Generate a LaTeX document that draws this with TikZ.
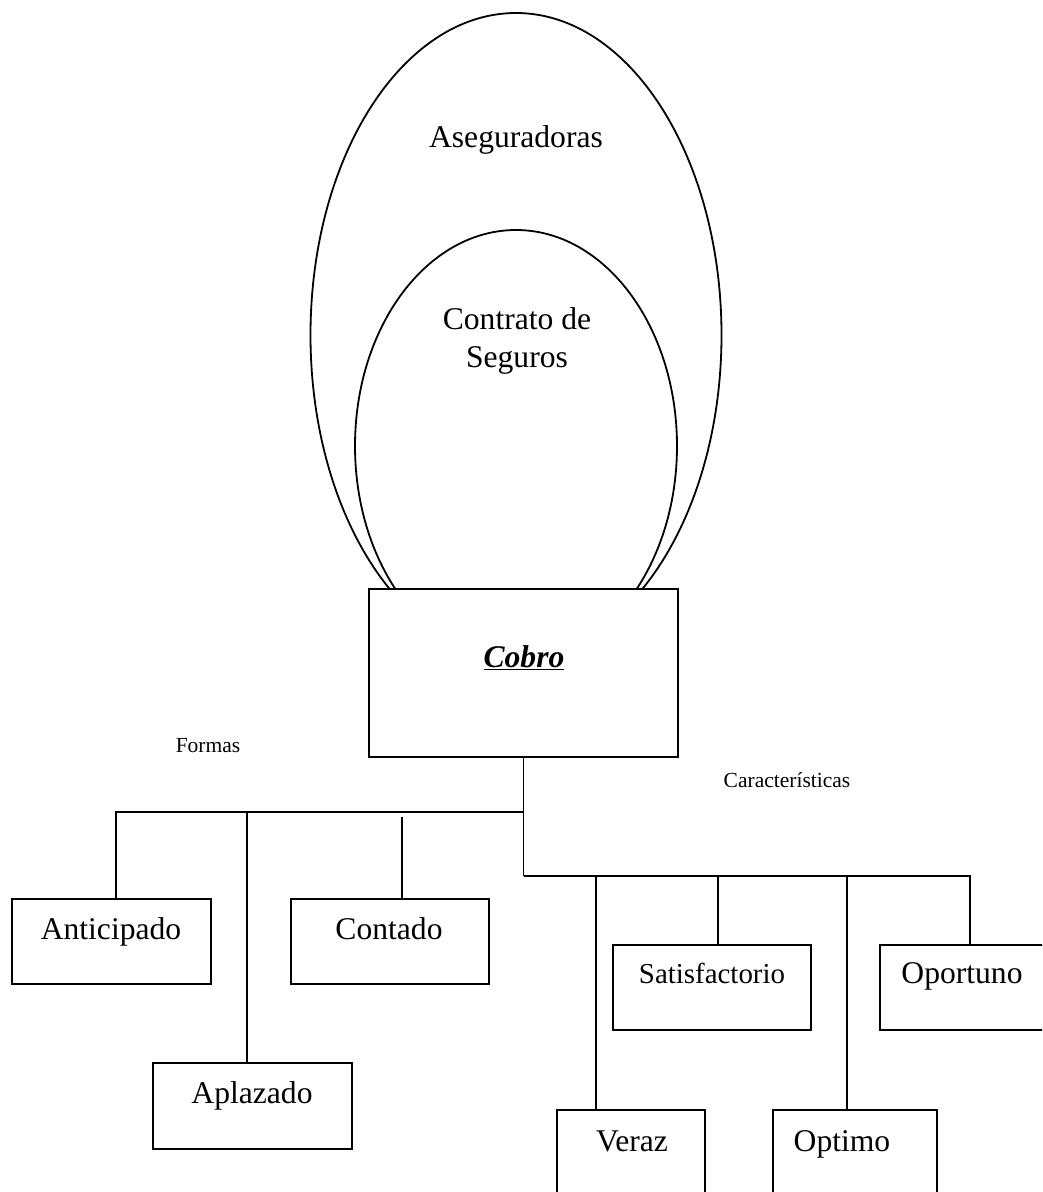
\documentclass[tikz,border=0pt]{standalone}
\usepackage{fontspec}
\setmainfont{Liberation Serif}
\begin{document}
\begin{tikzpicture}[x=1pt,y=-1pt,
  ln/.style={line width=1.8pt},
  box/.style={draw, line width=2pt, inner sep=0pt, outer sep=0pt, anchor=north west},
  big/.style={anchor=base, inner sep=0pt, font=\fontsize{31.6}{38}\selectfont},
  mid/.style={anchor=base, inner sep=0pt, font=\fontsize{28.9}{34}\selectfont},
  small/.style={anchor=base, inner sep=0pt, font=\fontsize{21.5}{26}\selectfont}]
\useasboundingbox (0,0) rectangle (1042,1192);
\clip (0,0) rectangle (1042,1192);
% ellipses
\draw[ln] (516,335) ellipse [x radius=205.5pt, y radius=322pt];
\draw[ln] (516,446) ellipse [x radius=161pt, y radius=216pt];
\node[big] (aseg) at (516,147) {Aseguradoras};
\node[big, align=center, anchor=base] (contrato) at (517,367) {Contrato de\\Seguros};
% central box
\node[box, fill=white, minimum width=309pt, minimum height=168pt] (cobro) at (369,589) {};
\node[big] (cobrot) at (524,667) {\bfseries\itshape\underline{Cobro}};
% labels
\node[small] (formas) at (208,752) {Formas};
\node[small] (caract) at (787,787) {Características};
% boxes
\node[box, minimum width=199pt, minimum height=85pt] (ant) at (12,899) {};
\node[box, minimum width=198pt, minimum height=85pt] (con) at (291,899) {};
\node[box, minimum width=199pt, minimum height=86pt] (apl) at (153,1063) {};
\node[box, minimum width=198pt, minimum height=85pt] (sat) at (613,945) {};
\node[box, minimum width=180pt, minimum height=85pt] (opo) at (880,945) {};
\node[box, minimum width=148pt, minimum height=100pt] (ver) at (557,1110) {};
\node[box, minimum width=164pt, minimum height=100pt] (opt) at (773,1110) {};
% box texts
\node[big] (antt) at (111,939) {Anticipado};
\node[big] (cont) at (389,939) {Contado};
\node[big] (aplt) at (252,1103) {Aplazado};
\node[mid] (satt) at (712,983) {Satisfactorio};
\node[big] (opot) at (962,983) {Oportuno};
\node[big] (vert) at (632,1151) {Veraz};
\node[big] (optt) at (842,1151) {Optimo};
% connectors
\coordinate (j1) at (523.5,812);
\coordinate (j2) at (523.5,876);
\coordinate (ka) at (116,812);
\coordinate (kp) at (247,812);
\coordinate (kc) at (402,817);
\coordinate (kv) at (596,876);
\coordinate (ks) at (718,876);
\coordinate (ko) at (847,876);
\coordinate (kr) at (970,876);
\draw[ln] (cobro.south) -- (j2);
\draw[ln] (j1) -- (ka) -- (ka |- ant.north);
\draw[ln] (kp) -- (kp |- apl.north);
\draw[ln] (kc) -- (kc |- con.north);
\draw[ln] (j2) -- (kr) -- (kr |- opo.north);
\draw[ln] (kv) -- (kv |- ver.north);
\draw[ln] (ks) -- (ks |- sat.north);
\draw[ln] (ko) -- (ko |- opt.north);
\end{tikzpicture}
\end{document}
